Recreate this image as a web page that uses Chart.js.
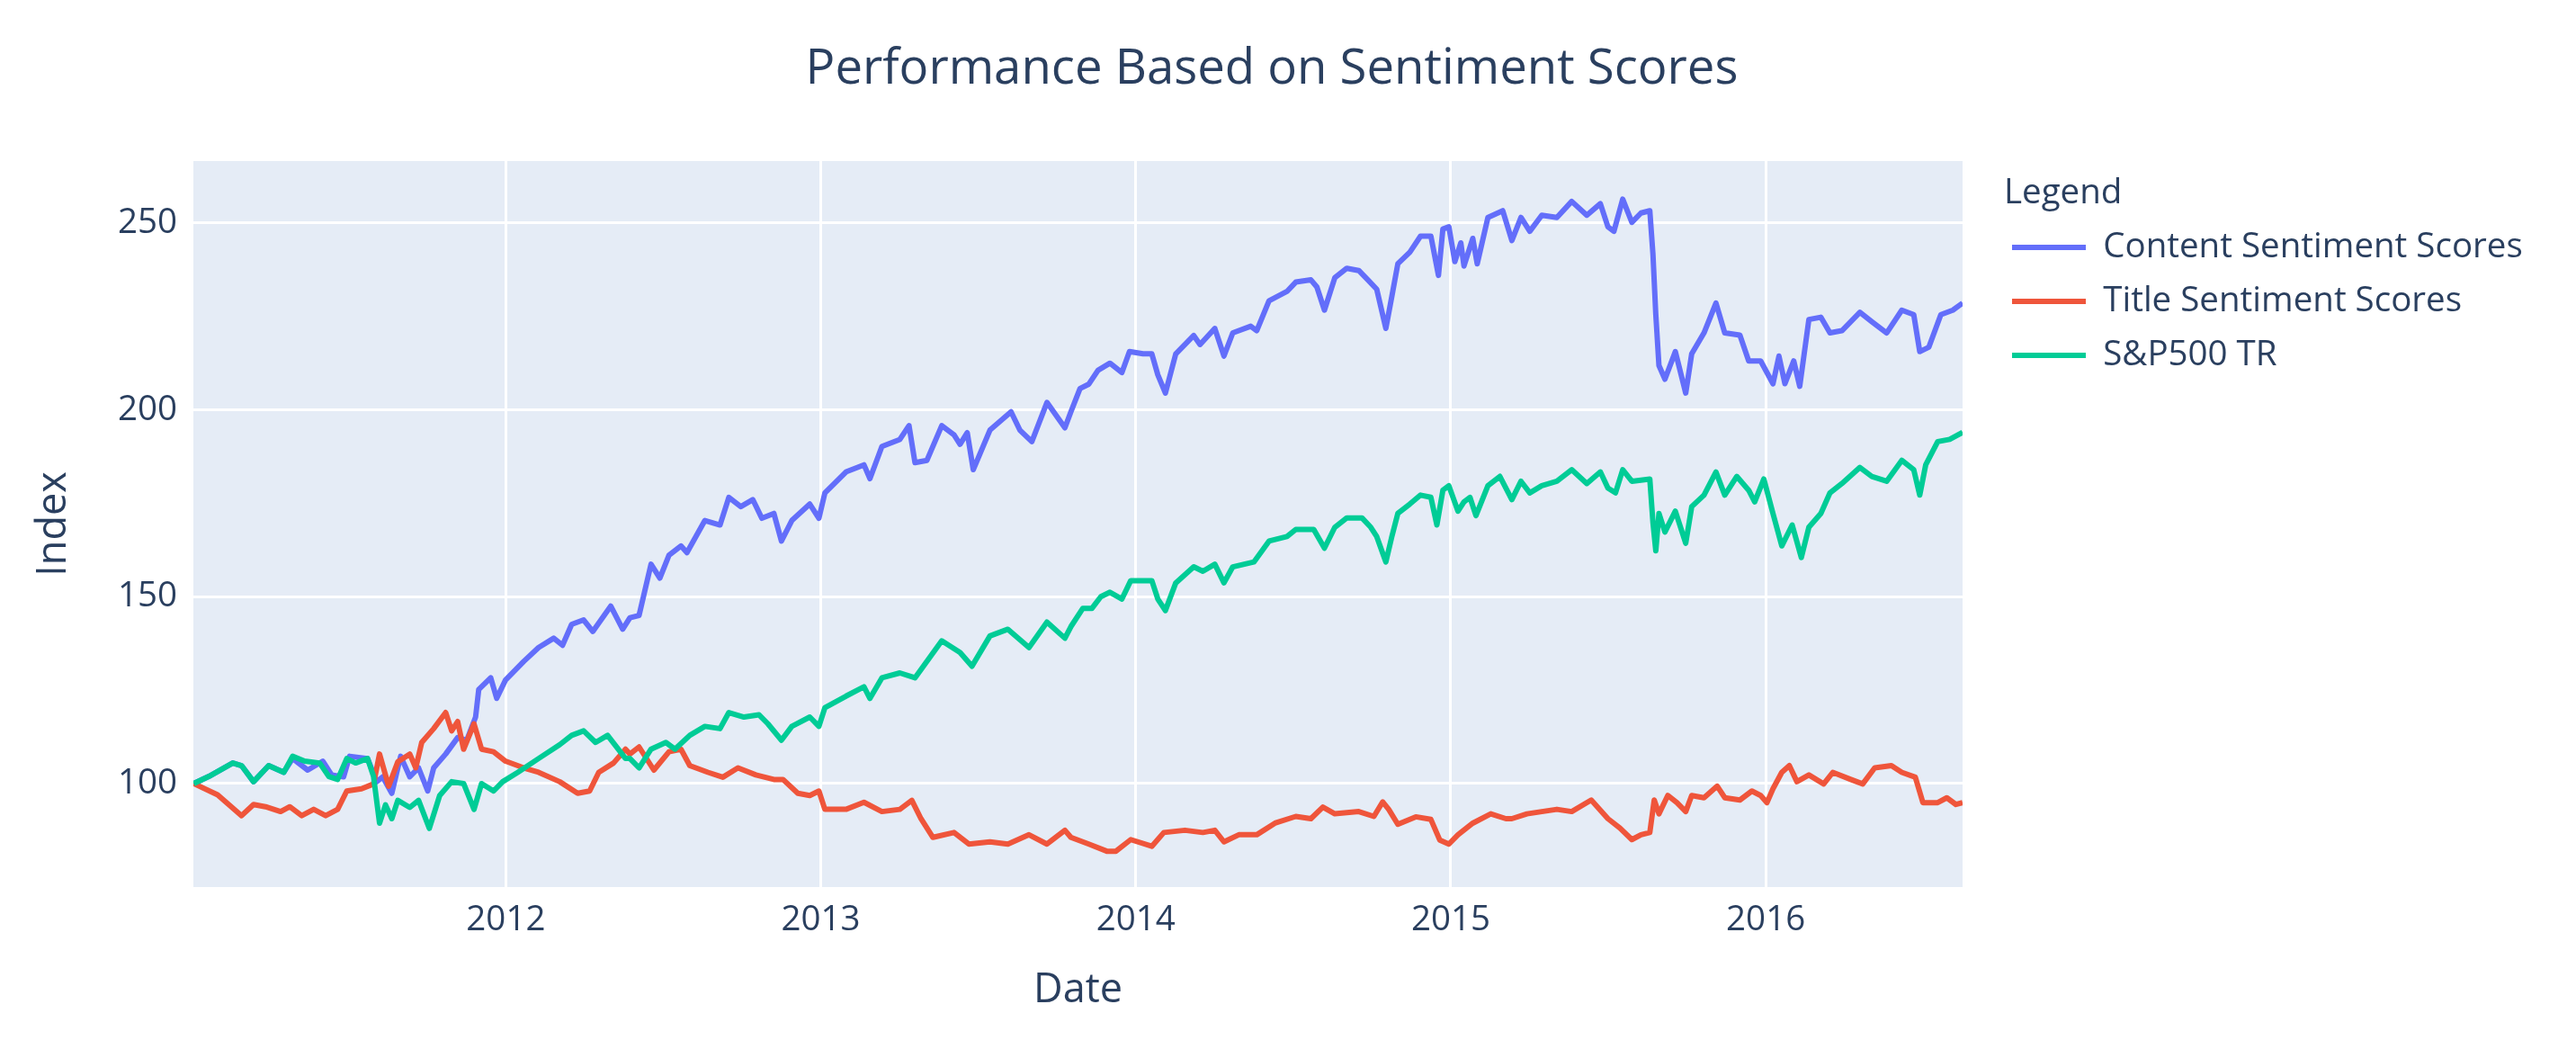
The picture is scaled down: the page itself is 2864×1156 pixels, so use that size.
<!DOCTYPE html>
<html><head><meta charset="utf-8">
<script src="https://cdn.jsdelivr.net/npm/chart.js@4.4.1/dist/chart.umd.min.js"></script>
<style>html,body{margin:0;padding:0;background:#fff;}canvas{display:block;}</style>
</head><body>
<canvas id="c" width="2864" height="1156" style="width:2864px;height:1156px"></canvas>
<script>
// time in decimal years
const contentT = [2011.009,2011.057,2011.133,2011.161,2011.199,2011.247,2011.295,2011.323,2011.371,2011.419,2011.447,2011.485,2011.504,2011.561,2011.590,2011.609,2011.638,2011.666,2011.695,2011.723,2011.752,2011.771,2011.809,2011.847,2011.876,2011.904,2011.914,2011.952,2011.971,2011.999,2012.057,2012.104,2012.152,2012.180,2012.209,2012.247,2012.276,2012.333,2012.371,
2012.394,2012.423,2012.461,2012.489,2012.518,2012.556,2012.575,2012.632,2012.680,2012.708,2012.746,2012.784,2012.813,2012.851,2012.875,2012.908,2012.965,2012.994,2013.013,2013.080,2013.137,2013.156,2013.194,2013.251,2013.280,2013.299,2013.337,2013.384,2013.423,2013.442,2013.465,2013.484,2013.537,2013.604,2013.632,2013.670,2013.718,2013.775,
2013.794,2013.823,2013.851,2013.880,2013.918,2013.956,2013.980,2014.023,2014.051,2014.070,2014.094,2014.127,2014.184,2014.204,2014.251,2014.280,2014.308,2014.365,2014.384,2014.423,2014.480,2014.508,2014.556,2014.575,2014.599,2014.632,2014.670,2014.708,2014.737,2014.765,2014.794,2014.813,2014.832,2014.870,2014.904,2014.937,2014.961,2014.975,2014.994,2015.013,2015.032,2015.042,2015.070,2015.084,2015.118,2015.165,
2015.194,2015.223,2015.251,2015.289,2015.337,2015.384,2015.432,2015.475,2015.499,2015.518,2015.546,2015.575,2015.604,2015.632,2015.642,2015.651,2015.661,2015.680,2015.713,2015.746,2015.765,2015.804,2015.842,2015.870,2015.918,2015.946,2015.984,2016.023,2016.042,2016.061,2016.089,2016.108,2016.137,2016.175,2016.204,2016.242,2016.299,2016.337,2016.384,2016.432,2016.470,2016.489,2016.518,2016.556,2016.594,2016.625];
const contentV = [100,101.9,105.5,104.8,100.5,104.8,103,106.7,103.6,106,102.3,101.8,107.3,106.7,100.5,101.8,97.4,107.3,101.8,104.2,98,104.2,107.9,112.3,111.6,117.8,125.2,128.3,122.8,127.7,132.7,136.4,138.9,137,142.6,143.8,140.7,147.5,141.3,
144.4,145,158.7,155,161.1,163.6,161.8,170.4,169.2,176.6,174.1,176,171,172.3,164.9,170.4,174.8,171,177.8,183.4,185.3,181.6,190.2,192.1,195.8,185.9,186.5,195.8,193.3,190.8,193.9,184,194.6,199.5,194.6,191.5,202,195.2,
199.5,205.7,206.9,210.6,212.5,210,215.6,215,215,209.4,204.5,215,219.9,217.5,221.8,214.4,220.6,222.4,221.2,229.2,231.7,234.2,234.8,232.9,226.7,235.4,237.9,237.3,234.8,232.3,221.8,230.4,239.1,242.2,246.5,246.5,236,248.4,249,239.7,244.7,238.5,245.9,239.1,251.5,253.3,
245.3,251.5,247.8,252.1,251.5,255.8,252.1,255.2,249,247.8,256.4,250.2,252.7,253.3,241.6,225.5,211.9,208.2,215.6,204.5,215,220.6,228.6,220.6,220,213.1,213.1,207,214.4,207,213.1,206.3,224.2,224.8,220.6,221.2,226.1,223.6,220.6,226.7,225.5,215.6,216.8,225.5,226.7,228.6];

const titleT = [2011.009,2011.085,2011.161,2011.199,2011.237,2011.285,2011.314,2011.352,2011.390,2011.428,2011.466,2011.495,2011.542,2011.580,2011.599,2011.628,2011.657,2011.695,2011.714,2011.733,2011.771,2011.809,2011.828,2011.847,2011.866,2011.899,2011.923,2011.961,2011.999,2012.057,2012.104,2012.171,2012.228,2012.266,2012.295,2012.342,2012.380,
2012.394,2012.423,2012.470,2012.518,2012.556,2012.584,2012.642,2012.689,2012.737,2012.794,2012.851,2012.880,2012.927,2012.965,2012.994,2013.013,2013.080,2013.137,2013.194,2013.251,2013.289,2013.318,2013.356,2013.423,2013.470,2013.537,2013.594,2013.661,2013.718,2013.775,
2013.794,2013.851,2013.908,2013.937,2013.984,2014.051,2014.089,2014.156,2014.213,2014.251,2014.280,2014.327,2014.384,2014.442,2014.508,2014.556,2014.594,2014.632,2014.708,2014.756,2014.784,2014.803,2014.832,2014.889,2014.937,2014.965,2014.994,2015.023,2015.070,2015.127,2015.175,
2015.194,2015.242,2015.289,2015.337,2015.384,2015.446,2015.499,2015.537,2015.575,2015.604,2015.632,2015.646,2015.661,2015.689,2015.718,2015.746,2015.765,2015.804,2015.846,2015.870,2015.918,2015.956,2015.984,2016.004,2016.023,2016.051,2016.075,2016.099,2016.137,2016.184,2016.213,2016.270,2016.308,2016.346,2016.399,2016.432,2016.475,2016.499,2016.546,2016.575,2016.604,2016.625];
const titleV = [100,97,91.4,94.4,93.8,92.5,93.8,91.4,93.1,91.4,93.1,98,98.6,99.9,107.9,99.3,105.8,107.9,104.2,111,114.7,119,114.1,116.6,109.2,116,109.2,108.5,106,104.2,103,100.5,97.4,98,103,105.5,109.2,
107.9,109.8,103.6,108.5,109.2,104.8,103,101.7,104.2,102.3,101.1,101.1,97.4,96.8,98,93.1,93.1,95,92.5,93.1,95.5,90.6,85.6,86.9,83.8,84.4,83.8,86.3,83.8,87.5,
85.6,83.8,81.9,81.9,85,83.2,86.9,87.5,86.9,87.5,84.4,86.3,86.3,89.4,91.2,90.6,93.7,91.9,92.5,91.2,95.1,93.1,89.1,91.1,90.4,84.9,83.8,86.3,89.4,91.9,90.6,
90.6,91.9,92.5,93.1,92.5,95.6,90.6,88.1,85,86.3,86.9,95.6,91.9,96.8,94.9,92.5,96.8,96.2,99.3,96.2,95.6,98,96.8,94.9,98.6,103,104.8,100.5,102.3,99.9,103,101.1,99.9,104.2,104.8,103,101.7,94.9,94.9,96.2,94.4,94.9];

const spT = [2011.009,2011.057,2011.133,2011.161,2011.199,2011.247,2011.295,2011.323,2011.361,2011.409,2011.438,2011.466,2011.495,2011.523,2011.561,2011.580,2011.599,2011.618,2011.638,2011.657,2011.695,2011.723,2011.757,2011.790,2011.828,2011.866,2011.899,2011.923,2011.961,2011.990,2012.038,2012.104,2012.171,2012.209,2012.247,2012.285,2012.323,2012.380,
2012.394,2012.423,2012.461,2012.508,2012.537,2012.584,2012.632,2012.680,2012.708,2012.756,2012.804,2012.832,2012.875,2012.908,2012.965,2012.994,2013.013,2013.080,2013.137,2013.156,2013.194,2013.251,2013.299,2013.384,2013.442,2013.480,2013.537,2013.594,2013.661,2013.718,2013.775,
2013.794,2013.832,2013.861,2013.889,2013.918,2013.956,2013.984,2014.051,2014.070,2014.094,2014.127,2014.184,2014.213,2014.251,2014.280,2014.308,2014.375,2014.423,2014.480,2014.508,2014.565,2014.599,2014.632,2014.670,2014.718,2014.746,2014.765,2014.794,2014.813,2014.832,2014.870,2014.904,2014.937,2014.956,2014.975,2014.994,2015.023,2015.042,2015.061,2015.080,2015.118,2015.156,
2015.194,2015.223,2015.251,2015.289,2015.337,2015.384,2015.432,2015.475,2015.499,2015.523,2015.546,2015.575,2015.632,2015.642,2015.651,2015.661,2015.680,2015.713,2015.746,2015.765,2015.804,2015.842,2015.870,2015.908,2015.946,2015.965,2015.994,2016.023,2016.051,2016.084,2016.113,2016.137,2016.175,2016.204,2016.242,2016.299,2016.337,2016.384,2016.432,2016.470,2016.489,2016.508,2016.546,2016.584,2016.625];
const spV = [100,101.9,105.5,104.8,100.5,104.8,103,107.3,106,105.5,101.9,101.1,106.7,105.5,106.7,101.9,89.4,94.3,90.6,95.5,93.6,95.5,88,96.8,100.5,100,93.1,100,98,100.5,103,106.7,110.4,112.9,114.1,111,112.9,106.7,
106.7,104.2,109.2,111,109.2,112.9,115.3,114.7,119,117.8,118.4,116,111.6,115.3,117.8,115.3,120.3,123.4,125.9,122.8,128.3,129.6,128.3,138.2,135.1,131.4,139.5,141.3,136.4,143.2,138.9,
142,146.9,146.9,150,151.2,149.4,154.3,154.3,149.4,146.3,153.7,158,156.8,158.7,153.7,158,159.3,164.9,166.1,168,168,163,168.6,171.1,171.1,168.6,166.1,159.3,166.1,172.3,174.8,177.2,176.6,169.2,178.5,179.7,172.9,175.4,176.6,171.7,179.7,182.2,
176,180.9,177.8,179.7,180.9,184,180.3,183.4,179.1,177.8,184,180.9,181.5,169.8,162.3,172.3,167.3,172.9,164.3,174.1,177.2,183.4,177.2,182.2,178.5,175.4,181.5,172.3,163.6,169.2,160.5,168.6,172.3,177.8,180.3,184.6,182.2,180.9,186.5,184,177.2,185.3,191.5,192.1,194];

const xTicks = [2012, 2013, 2014, 2015, 2016];
const yTicks = [100, 150, 200, 250];
const seriesNames = ['Content Sentiment Scores', 'Title Sentiment Scores', 'S&P500 TR'];
const seriesColors = ['#636EFA', '#EF553B', '#00CC96'];

const FONT = '"Open Sans", verdana, arial, sans-serif';
const TXT = '#2a3f5f';
const LEGEND_W = 612.5;

function pts(t, v) { return t.map((x, i) => ({ x: x, y: v[i] })); }

const bgPlugin = {
  id: 'plotbg',
  beforeDraw(chart) {
    const { ctx, chartArea: a } = chart;
    ctx.save();
    ctx.fillStyle = '#E5ECF6';
    ctx.fillRect(a.left, a.top, a.right - a.left, a.bottom - a.top);
    ctx.restore();
  }
};
const legendPatch = {
  id: 'legendPatch',
  beforeUpdate(chart) {
    const lg = chart.legend;
    if (!lg || lg._patched) return;
    lg._patched = true;
    const fit = lg.fit;
    lg.fit = function () { fit.call(this); this.width = LEGEND_W; };
    const dt = lg.drawTitle;
    lg.drawTitle = function () { this.ctx.save(); this.ctx.translate(12.5, 0); dt.call(this); this.ctx.restore(); };
  }
};

const ds = (i, t, v, order) => ({
  label: seriesNames[i], data: pts(t, v), borderColor: seriesColors[i], backgroundColor: seriesColors[i],
  borderWidth: 6, pointRadius: 0, pointHoverRadius: 0, fill: false, tension: 0, order: order,
  borderJoinStyle: 'round'
});

new Chart(document.getElementById('c'), {
  type: 'line',
  data: { datasets: [ds(0, contentT, contentV, 3), ds(1, titleT, titleV, 2), ds(2, spT, spV, 1)] },
  options: {
    responsive: false, devicePixelRatio: 1, animation: false,
    layout: { padding: { left: 0, right: 36, top: 0, bottom: 0 } },
    plugins: {
      tooltip: { enabled: false },
      title: {
        display: true, text: 'Performance Based on Sentiment Scores', color: TXT,
        font: { family: FONT, size: 54.5, weight: 'normal', lineHeight: 1.2 },
        padding: { top: 44.3, bottom: 69.3 }
      },
      legend: {
        position: 'right', align: 'start', fullSize: false,
        title: { display: true, text: 'Legend', color: TXT, position: 'start',
          font: { family: FONT, size: 38.5, weight: 'normal', lineHeight: 1 },
          padding: { top: 16.75, bottom: 0 } },
        labels: {
          usePointStyle: true, pointStyle: 'line', pointStyleWidth: 82,
          font: { family: FONT, size: 38.5 }, color: TXT, padding: 21.5,
          sort: (a, b) => a.datasetIndex - b.datasetIndex,
          generateLabels(chart) {
            return Chart.defaults.plugins.legend.labels.generateLabels(chart).map(l => Object.assign(l, { lineWidth: 6 }));
          }
        }
      }
    },
    scales: {
      x: {
        type: 'linear', min: 2011.008, max: 2016.625,
        afterBuildTicks: s => { s.ticks = xTicks.map(v => ({ value: v })); },
        afterFit: s => { s.height = 170; },
        ticks: { callback: v => String(v), font: { family: FONT, size: 38.5 }, color: TXT, padding: 14, maxRotation: 0, autoSkip: false },
        grid: { color: '#ffffff', lineWidth: 3, drawTicks: false },
        border: { display: false },
        title: { display: true, text: 'Date', color: TXT, font: { family: FONT, size: 45, lineHeight: 1.2 }, padding: { top: 0, bottom: 28 } }
      },
      y: {
        type: 'linear', min: 72.3, max: 266.6,
        afterBuildTicks: s => { s.ticks = yTicks.map(v => ({ value: v })); },
        afterFit: s => { s.width = 215; },
        ticks: { callback: v => String(v), font: { family: FONT, size: 38.5 }, color: TXT, padding: 18 },
        grid: { color: '#ffffff', lineWidth: 3, drawTicks: false },
        border: { display: false },
        title: { display: true, text: 'Index', color: TXT, font: { family: FONT, size: 45, lineHeight: 1.2 }, padding: { top: 33, bottom: 0 } }
      },
      y2: {
        type: 'linear', position: 'right', display: true,
        grid: { display: false }, border: { display: false }, ticks: { display: false },
        afterFit: s => { s.width = 33.5; }
      }
    }
  },
  plugins: [bgPlugin, legendPatch]
});
</script>
</body></html>
